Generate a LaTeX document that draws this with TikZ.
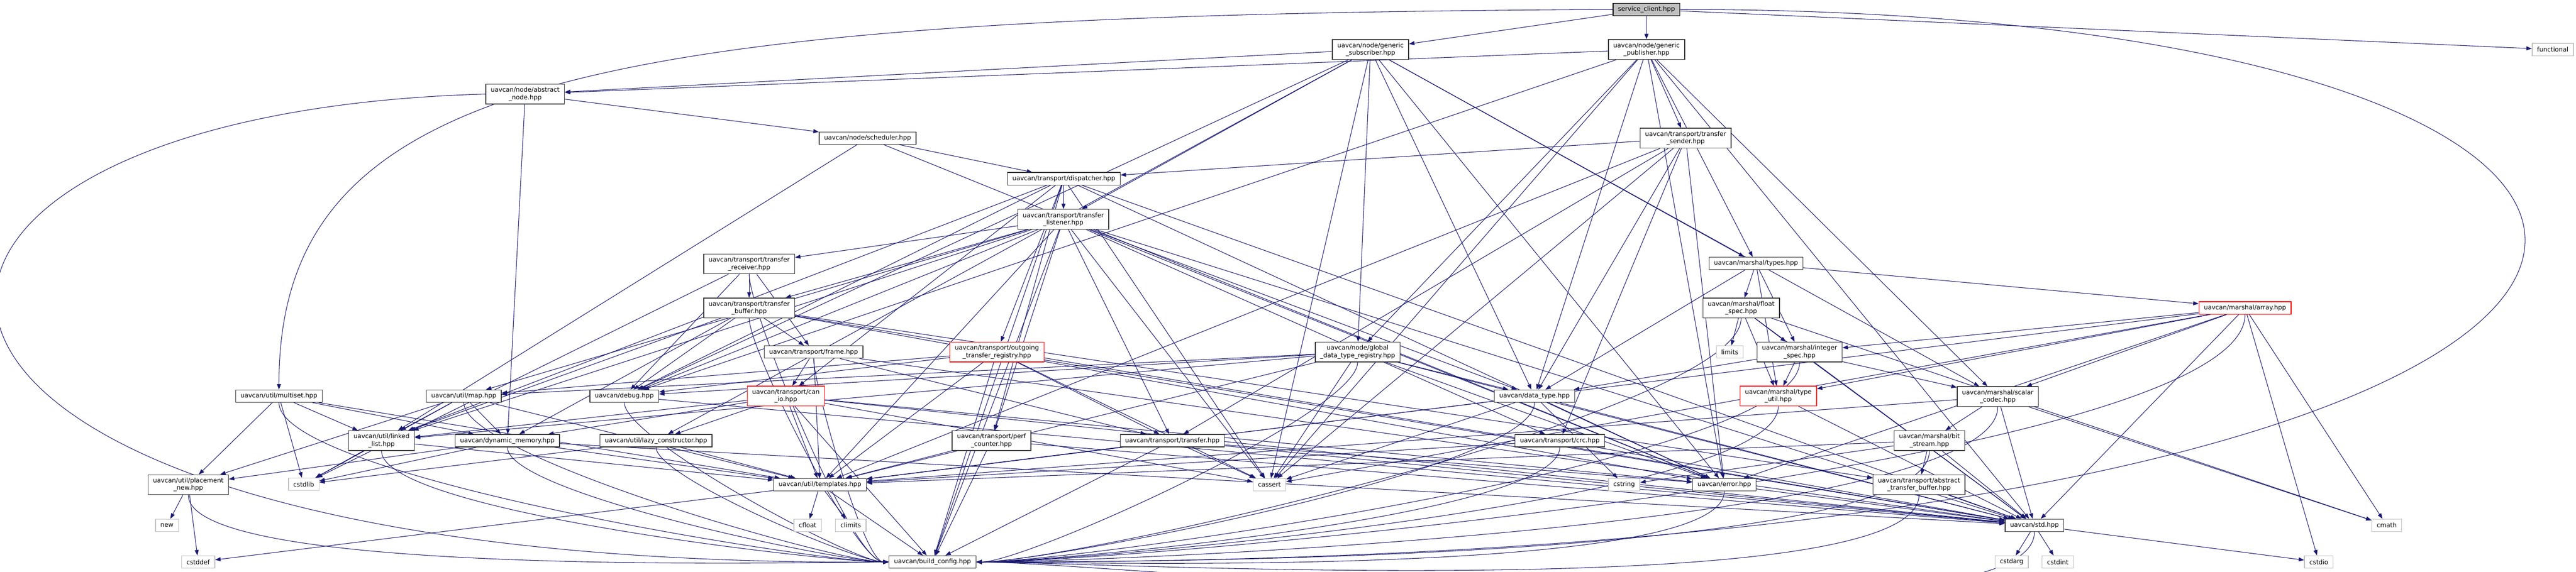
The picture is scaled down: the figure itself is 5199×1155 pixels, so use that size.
\documentclass[tikz,border=0pt]{standalone}
\usepackage{fontspec}
\setmainfont{DejaVu Sans}
\usetikzlibrary{arrows.meta}
\definecolor{edgeblue}{RGB}{25,25,112}
\definecolor{grey75}{RGB}{191,191,191}
\pgfdeclarelayer{edgelayer}
\pgfsetlayers{edgelayer,main}
\begin{document}
\begin{tikzpicture}
    [   x=0.2pt,y=-0.2pt,
        fnode/.style={draw=#1,fill=white,line width=0.28pt,inner xsep=2pt,inner ysep=1pt,minimum height=5pt,align=center,font=\fontsize{2.54}{3}\selectfont},
        fnode/.default=black!80,
        tnode/.style={fnode=#1,minimum height=8pt},
        tnode/.default=black!80,
        snode/.style={fnode=grey75},
        dep/.style={draw=edgeblue,line width=0.22pt,-{Triangle[length=2.2pt,width=1.6pt]}},
    ]
        \useasboundingbox (0,0) rectangle (5199,1155);
        \node[fnode=black,fill=grey75] (sc) at (3323,19) {service\_client.hpp};
        \node[tnode] (gsub) at (2766,100) {uavcan/node/generic\\\_subscriber.hpp};
        \node[tnode] (gpub) at (3323,100) {uavcan/node/generic\\\_publisher.hpp};
        \node[snode] (fnc) at (5152,100) {functional};
        \node[tnode] (anode) at (1060,190) {uavcan/node/abstract\\\_node.hpp};
        \node[fnode] (sched) at (1751,279) {uavcan/node/scheduler.hpp};
        \node[tnode] (tsend) at (3402,279) {uavcan/transport/transfer\\\_sender.hpp};
        \node[fnode] (disp) at (2147,361) {uavcan/transport/dispatcher.hpp};
        \node[tnode] (tlist) at (2146,443) {uavcan/transport/transfer\\\_listener.hpp};
        \node[fnode] (types) at (3544,532) {uavcan/marshal/types.hpp};
        \node[tnode] (trecv) at (1512,533) {uavcan/transport/transfer\\\_receiver.hpp};
        \node[tnode] (tbuf) at (1512,622) {uavcan/transport/transfer\\\_buffer.hpp};
        \node[tnode] (fspec) at (3514,622) {uavcan/marshal/float\\\_spec.hpp};
        \node[fnode=red] (arr) at (4531,622) {uavcan/marshal/array.hpp};
        \node[fnode] (frame) at (1642,711) {uavcan/transport/frame.hpp};
        \node[tnode=red] (otr) at (2012,711) {uavcan/transport/outgoing\\\_transfer\_registry.hpp};
        \node[tnode] (gdtr) at (2740,711) {uavcan/node/global\\\_data\_type\_registry.hpp};
        \node[snode] (lim) at (3491,711) {limits};
        \node[tnode] (ispec) at (3632,711) {uavcan/marshal/integer\\\_spec.hpp};
        \node[fnode] (mset) at (563,800) {uavcan/util/multiset.hpp};
        \node[fnode] (umap) at (936,800) {uavcan/util/map.hpp};
        \node[fnode] (dbg) at (1260,800) {uavcan/debug.hpp};
        \node[tnode=red] (canio) at (1586,800) {uavcan/transport/can\\\_io.hpp};
        \node[fnode] (dtype) at (3097,800) {uavcan/data\_type.hpp};
        \node[tnode=red] (tutil) at (3589,800) {uavcan/marshal/type\\\_util.hpp};
        \node[tnode] (scod) at (4032,801) {uavcan/marshal/scalar\\\_codec.hpp};
        \node[tnode] (llist) at (770,890) {uavcan/util/linked\\\_list.hpp};
        \node[fnode] (dmem) at (1024,890) {uavcan/dynamic\_memory.hpp};
        \node[fnode] (lazy) at (1324,890) {uavcan/util/lazy\_constructor.hpp};
        \node[tnode] (perf) at (2001,890) {uavcan/transport/perf\\\_counter.hpp};
        \node[fnode] (tfer) at (2366,890) {uavcan/transport/transfer.hpp};
        \node[fnode] (crc) at (3148,890) {uavcan/transport/crc.hpp};
        \node[tnode] (bits) at (3894,890) {uavcan/marshal/bit\\\_stream.hpp};
        \node[tnode] (pnew) at (380,979) {uavcan/util/placement\\\_new.hpp};
        \node[snode] (cstdlib) at (613,978) {cstdlib};
        \node[fnode] (tmpl) at (1655,979) {uavcan/util/templates.hpp};
        \node[snode] (cassert) at (2562,979) {cassert};
        \node[snode] (cstring) at (3278,979) {cstring};
        \node[fnode] (err) at (3480,979) {uavcan/error.hpp};
        \node[tnode] (atb) at (3873,979) {uavcan/transport/abstract\\\_transfer\_buffer.hpp};
        \node[snode] (nw) at (337,1061) {new};
        \node[snode] (cfloat) at (1630,1061) {cfloat};
        \node[snode] (climits) at (1717,1061) {climits};
        \node[fnode] (std) at (4106,1061) {uavcan/std.hpp};
        \node[snode] (cmath) at (4817,1061) {cmath};
        \node[snode] (cstddef) at (400,1135) {cstddef};
        \node[fnode] (bcfg) at (1882,1135) {uavcan/build\_config.hpp};
        \node[snode] (cstdarg) at (4060,1135) {cstdarg};
        \node[snode] (cstdint) at (4153,1135) {cstdint};
        \node[snode] (cstdio) at (4680,1135) {cstdio};
        \begin{pgfonlayer}{edgelayer}
        \fill[white] (0,0) rectangle (5199,1155);
        \foreach \src/\dst in {sc/gsub,sc/gpub,sc/fnc,
            gsub/anode,gsub/gdtr,gsub/dtype,gsub/types,gsub/dbg,gsub/tlist,gsub/lazy,gsub/err,gsub/scod,gsub/cassert,
            gpub/anode,gpub/gdtr,gpub/dtype,gpub/types,gpub/dbg,gpub/tsend,gpub/err,gpub/scod,gpub/cassert,gpub/std,
            anode/sched,anode/dmem,sched/disp,sched/llist,sched/err,
            disp/tlist,disp/otr,disp/canio,disp/llist,disp/perf,disp/cassert,disp/err,disp/std,disp/dbg,disp/bcfg,
            tlist/trecv,tlist/tbuf,tlist/dtype,tlist/crc,tlist/umap,tlist/llist,tlist/dbg,tlist/perf,tlist/tfer,tlist/cassert,tlist/err,tlist/tmpl,tlist/std,tlist/bcfg,
            tsend/disp,tsend/dtype,tsend/crc,tsend/tfer,tsend/err,tsend/cassert,tsend/tmpl,
            trecv/tbuf,trecv/frame,trecv/dbg,trecv/cstdlib,
            tbuf/frame,tbuf/dbg,tbuf/llist,tbuf/dmem,tbuf/err,tbuf/std,tbuf/atb,
            frame/canio,frame/tfer,frame/tmpl,frame/std,
            otr/umap,otr/dbg,otr/tfer,otr/tmpl,otr/cassert,otr/std,otr/bcfg,
            canio/llist,canio/dmem,canio/lazy,canio/tmpl,canio/cassert,canio/err,canio/std,canio/bcfg,
            perf/tmpl,perf/bcfg,perf/std,tfer/tmpl,tfer/bcfg,tfer/cassert,tfer/std,tfer/err,
            tmpl/cfloat,tmpl/climits,tmpl/bcfg,tmpl/cstddef,
            gdtr/dtype,gdtr/err,gdtr/dbg,gdtr/umap,gdtr/llist,gdtr/tmpl,gdtr/cassert,gdtr/std,
            dtype/cstring,dtype/tmpl,dtype/cassert,dtype/std,dtype/err,crc/tmpl,crc/std,
            types/fspec,types/ispec,types/arr,types/tutil,types/dtype,
            fspec/lim,fspec/ispec,fspec/tutil,fspec/cmath,fspec/std,
            ispec/tutil,ispec/dtype,ispec/scod,ispec/std,tutil/std,
            arr/ispec,arr/tutil,arr/scod,arr/std,arr/cmath,arr/cstdio,arr/tmpl,arr/cassert,arr/err,
            scod/bits,scod/tmpl,scod/std,scod/cmath,bits/atb,bits/std,bits/tmpl,bits/cstring,
            atb/std,std/cstdarg,std/cstdint,std/cstdio,err/std,
            mset/pnew,mset/llist,mset/dmem,mset/cstdlib,mset/tmpl,
            umap/llist,umap/dmem,umap/pnew,umap/cstdlib,umap/tmpl,
            llist/cstdlib,llist/tmpl,dmem/cstdlib,dmem/pnew,dmem/tmpl,dmem/std,
            lazy/cstdlib,lazy/tmpl,pnew/nw,pnew/cstddef,dbg/std}
        {   \draw[dep] (\src) -- (\dst);
        }
        \foreach \src in {mset,umap,llist,dmem,lazy,pnew,dbg,trecv,tbuf,frame}
        {   \draw[dep] (\src) to[out=-90,in=180,looseness=0.3] (bcfg);
        }
        \foreach \src in {gdtr,dtype,crc,fspec,ispec,tutil,arr,scod,bits,atb,err,std}
        {   \draw[dep] (\src) to[out=-90,in=0,looseness=0.3] (bcfg);
        }
        \draw[dep] (sc.west) .. controls (1200,30) and (563,150) .. (mset.north);
        \draw[dep] (sc.east) .. controls (5860,20) and (5860,1140) .. (bcfg.east);
        \draw[dep] (anode.west) .. controls (-450,230) and (-450,1150) .. (bcfg.west);
        \end{pgfonlayer}
\end{tikzpicture}
\end{document}
